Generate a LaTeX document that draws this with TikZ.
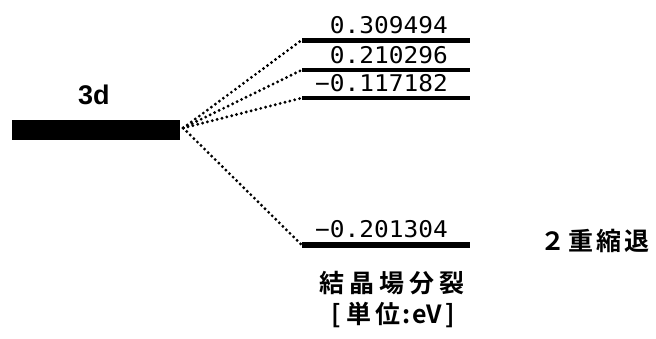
\documentclass[tikz,border=0pt]{standalone}
\usepackage{fontspec}
\setmainfont{Liberation Sans}
\newfontfamily\jpfont{Noto Sans CJK JP}[BoldFont={Noto Sans CJK JP Bold}]
\newfontfamily\numfont{DejaVu Sans Mono}
\begin{document}
\begin{tikzpicture}[x=1pt,y=1pt,
  levelbar/.style={fill=black, inner sep=0pt, minimum width=168pt},
  numlbl/.style={anchor=base east, inner sep=0pt, font=\numfont\fontsize{23}{23}\selectfont},
  conn/.style={line width=3.2pt, line cap=round, dash pattern=on 0pt off 5pt},
  jplbl/.style={inner sep=0pt, font=\jpfont\bfseries\fontsize{25}{25}\selectfont}]
\useasboundingbox (0,0) rectangle (656,-338);
\node[levelbar, minimum height=20pt] (bar) at (96,-130) {};
\node[anchor=base west, inner sep=0pt, font=\bfseries\fontsize{27}{27}\selectfont] (lbl3d) at (78,-104) {3d};
\node[levelbar, minimum height=5pt] (l1) at (386,-40) {};
\node[levelbar, minimum height=4pt] (l2) at (386,-70) {};
\node[levelbar, minimum height=4pt] (l3) at (386,-98) {};
\node[levelbar, minimum height=6pt] (l4) at (386,-245) {};
\node[numlbl] (t1) at (448,-33) {\scalebox{1.065}[1]{0.309494}};
\node[numlbl] (t2) at (448,-63) {\scalebox{1.065}[1]{0.210296}};
\node[numlbl] (t3) at (448,-91) {\scalebox{1.065}[1]{−0.117182}};
\node[numlbl] (t4) at (448,-237) {\scalebox{1.065}[1]{−0.201304}};
\coordinate (src) at ([xshift=3pt,yshift=2pt]bar.east);
\foreach \l in {l1,l2,l3,l4}
  \draw[conn] (src) -- (\l.west);
\node[jplbl] (deg) at (595,-241) {２\hspace{3pt}重\hspace{3pt}縮\hspace{3pt}退};
\node[jplbl] (cf) at (392,-283) {結\hspace{5pt}晶\hspace{5pt}場\hspace{5pt}分\hspace{5pt}裂};
\node[jplbl] (unit) at (393,-315) {[\hspace{6pt}単\hspace{4pt}位\hspace{2pt}:\hspace{2pt}eV\hspace{3pt}]};
\end{tikzpicture}
\end{document}
